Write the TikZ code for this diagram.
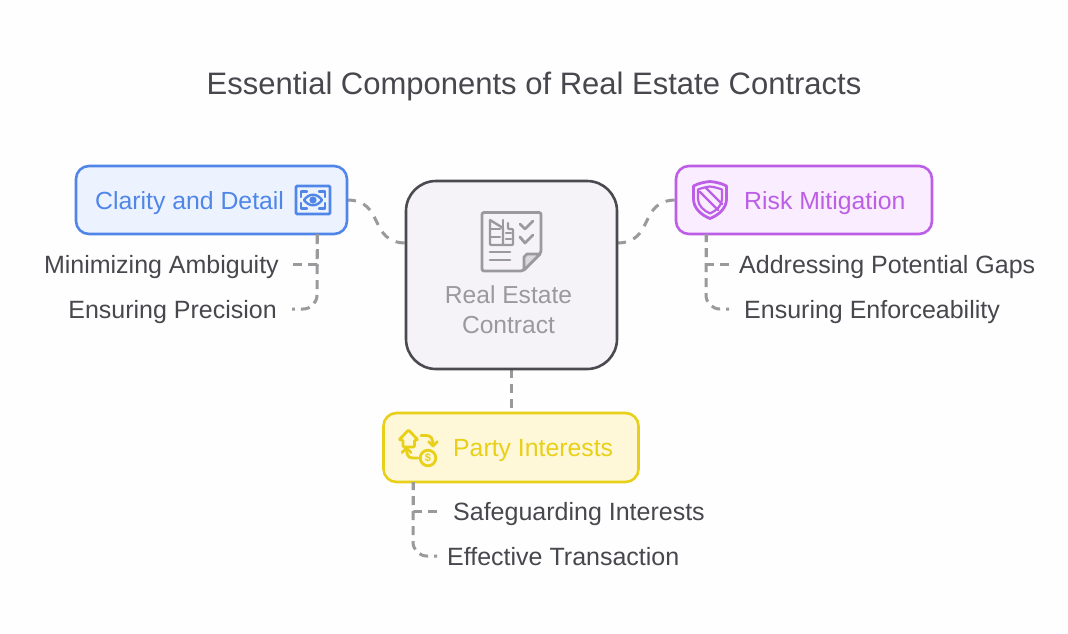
\documentclass[tikz,border=0pt]{standalone}
\usepackage{fontspec}
\setmainfont{Liberation Sans}
\usetikzlibrary{calc,positioning}
\definecolor{inkcolor}{HTML}{48474D}
\definecolor{linkcolor}{HTML}{9A999C}
\definecolor{clarityline}{HTML}{4F86E8}
\definecolor{clarityfill}{HTML}{EDF3FE}
\definecolor{riskline}{HTML}{BC5FE6}
\definecolor{riskfill}{HTML}{FAEDFF}
\definecolor{partyline}{HTML}{E8CF18}
\definecolor{partyfill}{HTML}{FEF8D8}
\definecolor{hubline}{HTML}{4A4A50}
\definecolor{hubfill}{HTML}{F5F3F8}
\definecolor{paper}{HTML}{FEFEFE}
\tikzset{
	box/.style = {draw, line width=2.6pt, rounded corners=13pt, inner sep=0pt},
	item/.style = {color=inkcolor, font=\fontsize{25}{30}\selectfont, text height=18pt, text depth=0pt, inner ysep=0pt},
	head/.style = {font=\fontsize{24.8}{30}\selectfont, text height=18pt, text depth=0pt, inner sep=0pt},
	link/.style = {draw=linkcolor, line width=3pt, dash pattern=on 9pt off 6pt},
	curvelink/.style = {draw=linkcolor, line width=3pt, dash pattern=on 9pt off 8pt},
	icon/.style = {line width=2.8pt, line join=round, line cap=round},
}

\begin{document}
\begin{tikzpicture}[x=1pt, y=-1pt]
	\useasboundingbox (0,0) rectangle (1068,633);
	\fill[paper] (0,0) rectangle (1068,633);

	\node (title) at (534, 86) [color = inkcolor, font=\fontsize{31}{36}\selectfont] {Essential Components of Real Estate Contracts};

	\coordinate (hubleft) at (406, 243);
	\coordinate (hubright) at (617, 243);
	\coordinate (clarityout) at (347, 200);
	\coordinate (riskout) at (676, 200);
	\coordinate (claritydrop) at (317, 234);
	\coordinate (riskdrop) at (706, 234);
	\coordinate (partydrop) at (413, 482);
	\coordinate (hubdrop) at (511, 369);
	\coordinate (partyin) at (511, 413);

	\draw[curvelink] (clarityout) .. controls (385,200) and (368,243) .. (hubleft);
	\draw[curvelink] (hubright) .. controls (655,243) and (638,200) .. (riskout);
	\draw[link] (hubdrop) -- (partyin);

	\node (hub) at (511.5, 275) [box, draw = hubline, fill = hubfill, minimum width=211pt, minimum height=188pt, rounded corners=30pt] {};
	\node (clarity) at (211.5, 200) [box, draw = clarityline, fill = clarityfill, minimum width=271pt, minimum height=68pt] {};
	\node (risk) at (804, 200) [box, draw = riskline, fill = riskfill, minimum width=256pt, minimum height=68pt] {};
	\node (party) at (511, 447.5) [box, draw = partyline, fill = partyfill, minimum width=255pt, minimum height=69pt] {};

	\node (claritytext) at (95, 200) [head, anchor=west, color = clarityline] {Clarity and Detail};
	\node (risktext) at (744, 200) [head, anchor=west, color = riskline] {Risk Mitigation};
	\node (partytext) at (453, 447) [head, anchor=west, color = partyline] {Party Interests};
	\node (hubtext) at (508.5, 310) [color = linkcolor, align=center, inner sep=0pt, font=\fontsize{24.6}{30}\selectfont] {Real Estate\\Contract};

	\node (minimizing) at (293, 264) [item, anchor=east, inner xsep=14pt] {Minimizing Ambiguity};
	\node (precision) at (292, 309) [item, anchor=east, inner xsep=15pt] {Ensuring Precision};
	\node (gaps) at (729, 264) [item, anchor=west, inner xsep=10pt] {Addressing Potential Gaps};
	\node (enforce) at (729, 309) [item, anchor=west, inner xsep=15pt] {Ensuring Enforceability};
	\node (safeguard) at (437, 511) [item, anchor=west, inner xsep=16pt] {Safeguarding Interests};
	\node (effective) at (437, 556) [item, anchor=west, inner xsep=10pt] {Effective Transaction};

	\draw[link] (claritydrop) |- (minimizing.east);
	\draw[link, dash phase=14pt, rounded corners=14pt] (claritydrop) |- (precision.east);
	\draw[link, dash phase=1pt] (riskdrop) |- (gaps.west);
	\draw[link, dash phase=1pt, rounded corners=14pt] (riskdrop) |- (enforce.west);
	\draw[link, dash phase=1pt] (partydrop) |- (safeguard.west);
	\draw[link, dash phase=1pt, rounded corners=14pt] (partydrop) |- (effective.west);

	\draw[icon, linkcolor, rounded corners=2pt] (482,212.5) -- (541,212.5) -- (541,253) -- (523,271) -- (482,271) -- cycle;
	\draw[icon, linkcolor, fill = hubfill!70!linkcolor] (540,254) -- (527,254) -- (524,257) -- (524,270) -- cycle;
	\draw[icon, linkcolor, line width=2.4pt, rounded corners=1pt] (490,220) -- (490,245) -- (513,245) -- (513,229) -- (508,229) -- (508,223) (490,220) -- (503,228) -- (503,245);
	\draw[icon, linkcolor, line width=2.2pt] (491,229) -- (500,229) (491,237) -- (500,237) (506,233) -- (511,233) (506,239) -- (511,239) (503,220) -- (503,228);
	\draw[icon, linkcolor] (520,224) -- (525,229) -- (533,221);
	\draw[icon, linkcolor] (520,237) -- (525,243) -- (533,235);
	\draw[icon, linkcolor] (490,252) -- (510,252);
	\draw[icon, linkcolor] (490,260) -- (510,260);

	\draw[icon, clarityline, rounded corners=1pt] (296,186) rectangle (330,214);
	\draw[icon, clarityline, line width=2.4pt] (301,197) -- (301,191.5) -- (307,191.5) (319,191.5) -- (325,191.5) -- (325,197);
	\draw[icon, clarityline, line width=2.4pt] (301,203) -- (301,208.5) -- (307,208.5) (319,208.5) -- (325,208.5) -- (325,203);
	\draw[icon, clarityline, line width=2.4pt] (304,200) .. controls (309,193) and (317,193) .. (322,200) .. controls (317,207) and (309,207) .. (304,200) -- cycle;
	\fill[clarityline] (313,200) circle (3.6pt);

	\draw[icon, riskline] (710,181.5) .. controls (716,182) and (722,183.5) .. (726.5,186) -- (726.5,199) .. controls (726.5,208) and (719,215) .. (710,218.5) .. controls (701,215) and (693.5,208) .. (693.5,199) -- (693.5,186) .. controls (698,183.5) and (704,182) .. (710,181.5) -- cycle;
	\draw[icon, riskline, line width=2.2pt] (710,186.5) .. controls (714,187) and (718,188) .. (722,189.5) -- (722,199) .. controls (722,205.5) and (716.5,210.5) .. (710,213.5) .. controls (703.5,210.5) and (698,205.5) .. (698,199) -- (698,189.5) .. controls (702,188) and (706,187) .. (710,186.5) -- cycle;
	\draw[icon, riskline, line width=2.2pt] (700,192) -- (718,210) (706,188) -- (722,204);

	\draw[icon, partyline, rounded corners=1pt] (399,440) -- (408.5,430) -- (418,440) -- (414.5,440) -- (414.5,447) -- (403,447) -- (403,440) -- cycle;
	\draw[icon, partyline] (421,435.5) -- (426,435.5) .. controls (431,435.5) and (433,438) .. (433,446);
	\draw[icon, partyline] (428.5,441.5) -- (433,446) -- (437.5,441.5);
	\draw[icon, partyline] (418,458) -- (413,458) .. controls (408,458) and (406.5,455) .. (406.5,448);
	\draw[icon, partyline] (402,452.5) -- (406.5,448) -- (411,452.5);
	\draw[icon, partyline] (428,458) circle (7.8pt);
	\node (dollar) at (428, 458) [color = partyline, inner sep=0pt, font=\fontsize{11}{11}\selectfont\bfseries] {\$};
\end{tikzpicture}
\end{document}
